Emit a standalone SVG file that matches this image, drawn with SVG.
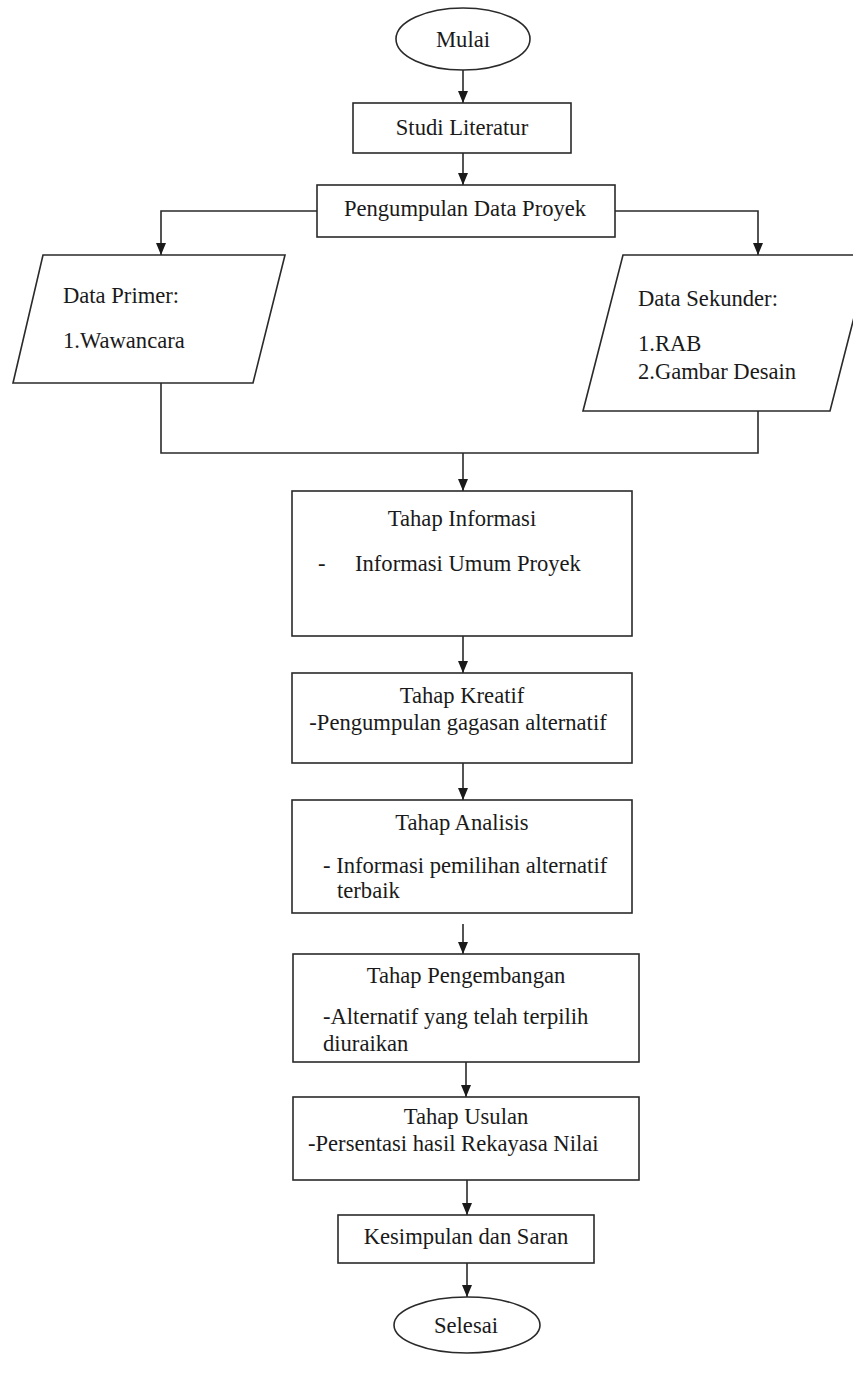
<svg xmlns="http://www.w3.org/2000/svg" width="853" height="1391" viewBox="0 0 853 1391">
<defs>
<marker id="arr" viewBox="0 0 12 10" refX="12" refY="5" markerWidth="12" markerHeight="10" markerUnits="userSpaceOnUse" orient="auto">
<path d="M0,0 L12,5 L0,10 Z" fill="#1a1a1a"/>
</marker>
</defs>
<style>
.s{fill:#fff;stroke:#2a2a2a;stroke-width:1.6}
.c{fill:none;stroke:#2a2a2a;stroke-width:1.6}
text{font-family:'Liberation Serif','Tinos','DejaVu Serif',serif;font-size:22.6px;fill:#1a1a1a}
.m{text-anchor:middle}
</style>
<rect width="853" height="1391" fill="#fff"/>
<g id="connectors">
<path class="c" d="M463,70 V103" marker-end="url(#arr)"/>
<path class="c" d="M463,153 V185" marker-end="url(#arr)"/>
<path class="c" d="M317,211 H161 V255" marker-end="url(#arr)"/>
<path class="c" d="M615,211 H758 V255" marker-end="url(#arr)"/>
<path class="c" d="M161,383 V453 H758 V411"/>
<path class="c" d="M463,453 V491" marker-end="url(#arr)"/>
<path class="c" d="M463,636 V673" marker-end="url(#arr)"/>
<path class="c" d="M463,763 V800" marker-end="url(#arr)"/>
<path class="c" d="M463,924 V954" marker-end="url(#arr)"/>
<path class="c" d="M466,1062 V1097" marker-end="url(#arr)"/>
<path class="c" d="M467,1180 V1215" marker-end="url(#arr)"/>
<path class="c" d="M467,1263 V1297" marker-end="url(#arr)"/>
</g>
<g id="mulai">
<ellipse class="s" cx="463" cy="39" rx="67" ry="31"/>
<text class="m" x="463" y="47">Mulai</text>
</g>
<g id="studi">
<rect class="s" x="353" y="103" width="218" height="50"/>
<text class="m" x="462" y="135">Studi Literatur</text>
</g>
<g id="pengumpulan">
<rect class="s" x="317" y="185" width="298" height="52"/>
<text class="m" x="465" y="216">Pengumpulan Data Proyek</text>
</g>
<g id="primer">
<polygon class="s" points="43,255 285,255 253,383 13,383"/>
<text x="63" y="303">Data Primer:</text>
<text x="63" y="348">1.Wawancara</text>
</g>
<g id="sekunder">
<polygon class="s" points="623,255 870,255 830,411 583,411"/>
<text x="638" y="306">Data Sekunder:</text>
<text x="638" y="351">1.RAB</text>
<text x="638" y="379">2.Gambar Desain</text>
</g>
<g id="informasi">
<rect class="s" x="292" y="491" width="340" height="145"/>
<text class="m" x="462" y="526">Tahap Informasi</text>
<text x="318" y="571">-</text>
<text x="355" y="571">Informasi Umum Proyek</text>
</g>
<g id="kreatif">
<rect class="s" x="292" y="673" width="340" height="90"/>
<text class="m" x="462" y="703">Tahap Kreatif</text>
<text class="m" x="458" y="730">-Pengumpulan gagasan alternatif</text>
</g>
<g id="analisis">
<rect class="s" x="292" y="800" width="340" height="113"/>
<text class="m" x="462" y="830">Tahap Analisis</text>
<text x="323" y="873">- Informasi pemilihan alternatif</text>
<text x="337" y="898">terbaik</text>
</g>
<g id="pengembangan">
<rect class="s" x="293" y="954" width="346" height="108"/>
<text class="m" x="466" y="983">Tahap Pengembangan</text>
<text x="323" y="1024">-Alternatif yang telah terpilih</text>
<text x="323" y="1051">diuraikan</text>
</g>
<g id="usulan">
<rect class="s" x="293" y="1097" width="346" height="83"/>
<text class="m" x="466" y="1124">Tahap Usulan</text>
<text x="308" y="1151">-Persentasi hasil Rekayasa Nilai</text>
</g>
<g id="kesimpulan">
<rect class="s" x="338" y="1215" width="256" height="48"/>
<text class="m" x="466" y="1244">Kesimpulan dan Saran</text>
</g>
<g id="selesai">
<ellipse class="s" cx="467" cy="1325" rx="73" ry="28"/>
<text class="m" x="466" y="1333">Selesai</text>
</g>
</svg>
